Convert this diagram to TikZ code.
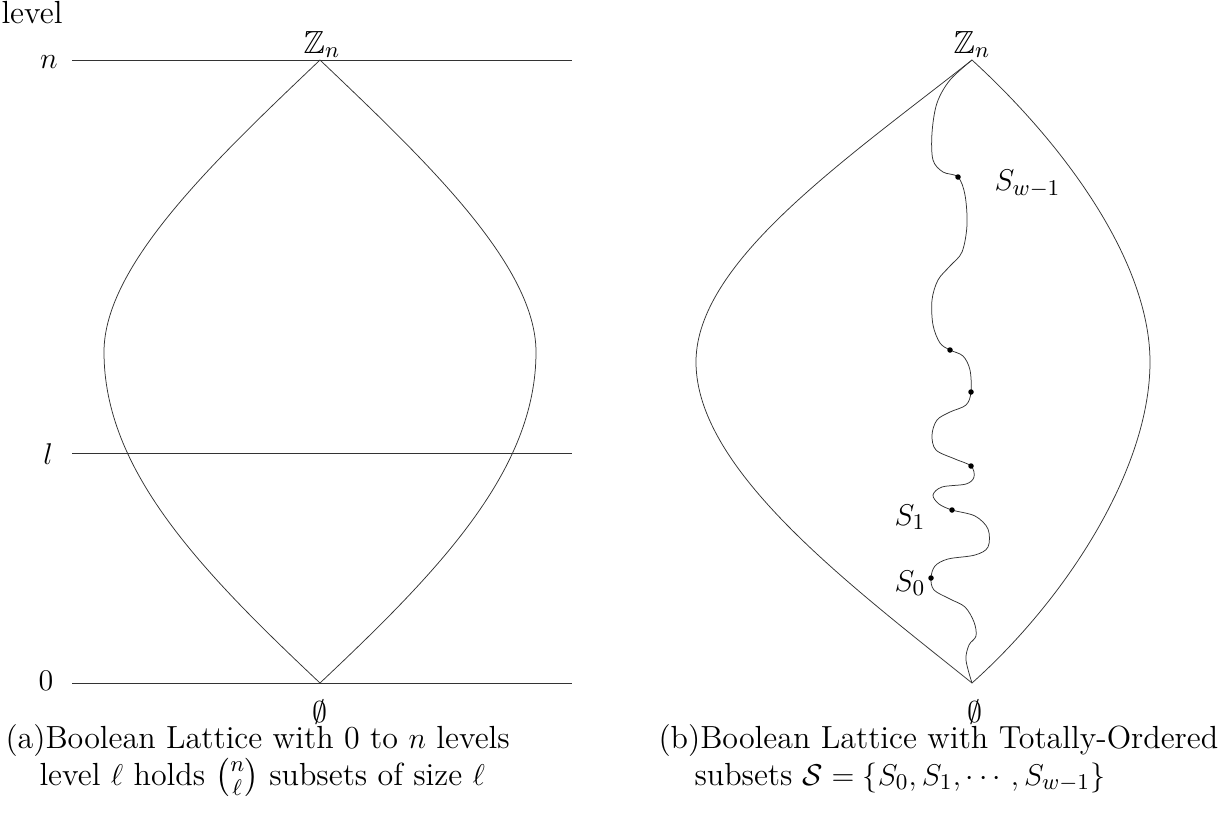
\documentclass[tikz,border=0pt]{standalone}
\usepackage{amsmath,amssymb}
\begin{document}
\begin{tikzpicture}[x=0.4pt,y=-0.4pt,
  font=\fontsize{12.8}{15.4}\selectfont,
  thinline/.style={line width=0.3pt,black!80},
  lbl/.style={inner sep=0pt},
  dotmark/.style={circle,fill=black,inner sep=0pt,minimum size=2.2pt}]
\useasboundingbox (0,0) rectangle (1228,816);
% ---------- left diagram ----------
\node[lbl,anchor=base west] (lev) at (1,23) {level};
\coordinate (nL) at (72,60);  \coordinate (nR) at (572,60);
\coordinate (lL) at (72,453); \coordinate (lR) at (572,453);
\coordinate (zL) at (72,683); \coordinate (zR) at (572,683);
\draw[thinline] (nL) -- (nR);
\draw[thinline] (lL) -- (lR);
\draw[thinline] (zL) -- (zR);
\node[lbl] (labn) at (49,62) {$n$};
\node[lbl] (labl) at (48,454) {$l$};
\node[lbl] (lab0) at (46,681) {$0$};
\coordinate (topA) at (320,60);
\coordinate (botA) at (320,683);
\node[lbl,anchor=south] (ZA) at (322,58) {$\mathbb{Z}_n$};
\node[lbl] (EA) at (320,712) {$\emptyset$};
\draw[thinline] (topA) .. controls (215,160) and (104,265) .. (104,352)
  .. controls (104,470) and (200,570) .. (botA);
\draw[thinline] (topA) .. controls (425,160) and (536,265) .. (536,352)
  .. controls (536,470) and (440,570) .. (botA);
\node[lbl,anchor=base west] (capA1) at (5,748) {(a)Boolean Lattice with 0 to $n$ levels};
\node[lbl,anchor=base west] (capA2) at (39,785) {level $\ell$ holds $\binom{n}{\ell}$ subsets of size $\ell$};
% ---------- right diagram ----------
\coordinate (topB) at (972,60);
\coordinate (botB) at (972,683);
\node[lbl,anchor=south] (ZB) at (972,58) {$\mathbb{Z}_n$};
\node[lbl] (EB) at (975,712) {$\emptyset$};
\draw[thinline] (topB) .. controls (845,160) and (696,262) .. (696,362)
  .. controls (696,470) and (850,585) .. (botB);
\draw[thinline] (topB) .. controls (1065,145) and (1150,262) .. (1150,362)
  .. controls (1150,470) and (1065,600) .. (botB);
\coordinate (s5) at (958,177);
\coordinate (s4) at (950,350);
\coordinate (s3) at (971,392);
\coordinate (s2) at (971,466);
\coordinate (s1) at (952,510);
\coordinate (s0) at (931,578);
\draw[thinline] plot[smooth,tension=0.55] coordinates {
  (972,60) (950,80) (937,103) (932,133) (933,160) (943,172) (958,177)
  (965,195) (967,225) (962,252) (950,266) (938,280) (932,300) (933,325) (940,343) (950,350)
  (963,356) (970,370) (971,392) (966,405) (950,412) (937,420) (932,435) (936,450) (955,459) (971,466)
  (974,477) (966,484) (942,487) (933,495) (939,504) (952,510)
  (975,516) (988,529) (988,547) (975,555) (948,559) (935,566) (931,578)
  (934,590) (950,599) (965,607) (974,622) (976,636) (969,645) (966,660) (972,683)};
\foreach \p in {s0,s1,s2,s3,s4,s5} \node[dotmark] at (\p) {};
\node[lbl,anchor=west] (L5) at (994,184) {$S_{w-1}$};
\node[lbl,anchor=east] (L1) at (926,517) {$S_1$};
\node[lbl,anchor=east] (L0) at (926,583) {$S_0$};
\node[lbl,anchor=base west] (capB1) at (658,748) {(b)Boolean Lattice with Totally-Ordered};
\node[lbl,anchor=base west] (capB2) at (694,785) {subsets $\mathcal{S}=\{S_0,S_1,\cdots,S_{w-1}\}$};
\end{tikzpicture}
\end{document}
